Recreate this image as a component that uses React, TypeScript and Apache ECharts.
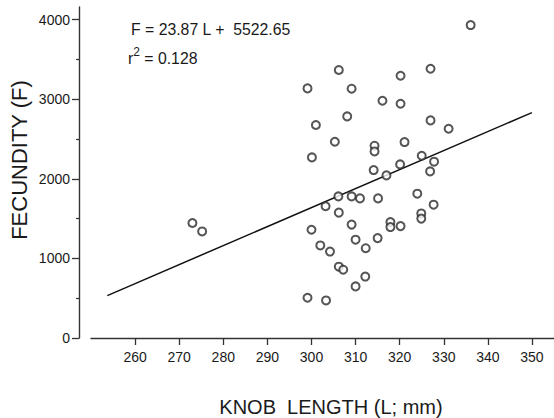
import React, { useEffect, useRef } from 'react';
import * as echarts from 'echarts';

// Knob length (L; mm) and fecundity (F) of each individual
const knobLength = [
  336.1, 306.2, 327.0, 320.2, 299.1, 309.1, 316.1, 320.2, 308.1, 301.0,
  327.0, 331.1, 305.3, 314.3, 314.3, 321.1, 300.1, 325.0, 327.8, 320.1,
  326.9, 314.1, 317.0, 324.0, 306.1, 309.1, 311.0, 315.1, 327.7, 303.2,
  306.2, 309.1, 300.0, 317.9, 317.9, 320.2, 324.9, 324.9, 315.0, 310.0,
  312.3, 302.0, 304.2, 306.2, 307.2, 312.2, 310.0, 299.1, 303.3, 273.0,
  275.2,
];
const fecundity = [
  3932, 3367, 3383, 3295, 3136, 3132, 2981, 2943, 2784, 2676,
  2734, 2629, 2466, 2416, 2344, 2462, 2269, 2290, 2215, 2181,
  2093, 2110, 2043, 1813, 1779, 1779, 1754, 1754, 1675, 1655,
  1575, 1425, 1360, 1457, 1394, 1406, 1565, 1500, 1255, 1235,
  1128, 1163, 1086, 896, 858, 772, 648, 506, 472, 1445,
  1339,
];

// Fitted regression line end points (as drawn)
const fitLineX = [253.7, 350];
const fitLineY = [533, 2832];

const xTickValues = [260, 270, 280, 290, 300, 310, 320, 330, 340, 350];
const yMajorTicks = [0, 1000, 2000, 3000, 4000];
const yMinorTicks = [500, 1500, 2500, 3500];

const equationText = 'F = 23.87 L + \u00a05522.65';
const r2Base = 'r';
const r2Sup = '2';
const r2Rest = ' = 0.128';
const xTitle = 'KNOB\u00a0 LENGTH (L; mm)';
const yTitle = 'FECUNDITY (F)';

const FONT = '"Liberation Sans", Arial, Helvetica, sans-serif';
const AXIS_COLOR = '#333';
const TEXT_COLOR = '#1a1a1a';

export default function App() {
  const ref = useRef<HTMLDivElement>(null);

  useEffect(() => {
    if (!ref.current) return;
    const chart = echarts.init(ref.current, undefined, { renderer: 'svg' });
    const points = knobLength.map((x, i) => [x, fecundity[i]]);
    const linePts = fitLineX.map((x, i) => [x, fitLineY[i]]);

    const option: any = {
      animation: false,
      backgroundColor: '#ffffff',
      textStyle: { fontFamily: FONT },
      grid: { left: 91, right: 0, top: 6.9, bottom: 80 },
      xAxis: {
        type: 'value',
        min: 250,
        max: 355,
        interval: 10,
        axisLine: { show: true, lineStyle: { color: AXIS_COLOR, width: 1.4 } },
        axisTick: {
          show: true,
          customValues: xTickValues,
          length: 7,
          lineStyle: { color: AXIS_COLOR, width: 1.3 },
        },
        axisLabel: {
          customValues: xTickValues,
          margin: 12,
          fontSize: 14,
          color: TEXT_COLOR,
          fontFamily: FONT,
          formatter: (v: number) => String(v),
        },
        splitLine: { show: false },
      },
      yAxis: [
        {
          type: 'value',
          min: 0,
          max: 4160,
          interval: 1000,
          position: 'left',
          offset: 12,
          axisLine: { show: true, lineStyle: { color: AXIS_COLOR, width: 1.4 } },
          axisTick: {
            show: true,
            customValues: yMajorTicks,
            length: 7,
            lineStyle: { color: AXIS_COLOR, width: 1.3 },
          },
          axisLabel: {
            customValues: yMajorTicks,
            margin: 9,
            fontSize: 14,
            color: TEXT_COLOR,
            fontFamily: FONT,
            formatter: (v: number) => String(v),
          },
          splitLine: { show: false },
        },
        {
          type: 'value',
          min: 0,
          max: 4160,
          interval: 1000,
          position: 'left',
          offset: 12,
          axisLine: { show: false },
          axisTick: {
            show: true,
            customValues: yMinorTicks,
            length: 3,
            lineStyle: { color: AXIS_COLOR, width: 1.2 },
          },
          axisLabel: { show: false },
          splitLine: { show: false },
        },
      ],
      series: [
        {
          type: 'line',
          data: linePts,
          symbol: 'none',
          lineStyle: { color: '#111', width: 1.5 },
          z: 2,
        },
        {
          type: 'scatter',
          data: points,
          symbol: 'emptyCircle',
          symbolSize: 8,
          itemStyle: { color: '#2a2a2a', borderColor: '#2a2a2a', borderWidth: 1.4 },
          z: 3,
        },
      ],
      graphic: [
        {
          type: 'text',
          x: 131,
          y: 29,
          style: {
            text: equationText,
            fontSize: 15.8,
            fontFamily: FONT,
            fill: TEXT_COLOR,
            textAlign: 'left',
            textVerticalAlign: 'middle',
          },
        },
        {
          type: 'text',
          x: 128,
          y: 58,
          style: {
            text: '{r|' + r2Base + '}{s|' + r2Sup + '}{r|' + r2Rest + '}',
            fontFamily: FONT,
            fill: TEXT_COLOR,
            textAlign: 'left',
            textVerticalAlign: 'middle',
            rich: {
              r: { fontSize: 15.8, lineHeight: 24, fontFamily: FONT, fill: TEXT_COLOR },
              s: {
                fontSize: 12,
                lineHeight: 13,
                verticalAlign: 'top',
                fontFamily: FONT,
                fill: TEXT_COLOR,
              },
            },
          },
        },
        {
          type: 'text',
          x: 331,
          y: 407,
          style: {
            text: xTitle,
            fontSize: 20,
            fontFamily: FONT,
            fill: TEXT_COLOR,
            textAlign: 'center',
            textVerticalAlign: 'middle',
          },
        },
        {
          type: 'text',
          x: 19,
          y: 160,
          rotation: Math.PI / 2,
          style: {
            text: yTitle,
            fontSize: 22,
            fontFamily: FONT,
            fill: TEXT_COLOR,
            textAlign: 'center',
            textVerticalAlign: 'middle',
          },
        },
      ],
    };

    chart.setOption(option);
    return () => {
      chart.dispose();
    };
  }, []);

  return (
    <div
      ref={ref}
      style={{ position: 'absolute', left: 0, top: 0, width: 554, height: 418 }}
    />
  );
}
